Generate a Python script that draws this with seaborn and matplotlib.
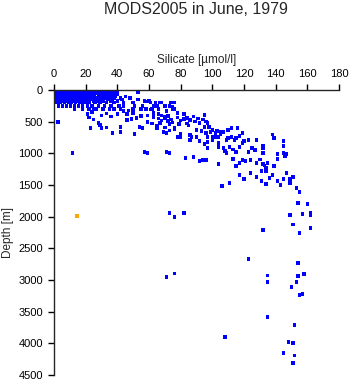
import matplotlib
matplotlib.use('Agg')
import matplotlib.pyplot as plt
import seaborn as sns
import pandas as pd

sns.set_style('ticks')
plt.rcParams['font.family'] = ['Liberation Sans', 'DejaVu Sans']

# upper layer: silicate values at standard depths (m)
levels = [0, 10, 20, 30, 50, 75, 100, 125, 150, 175, 200, 250, 300]
si_levels = [
    [0.3, 1.5, 3, 4.5, 6, 7.5, 9, 10.5, 12, 13.5, 15, 16.5, 18, 19.5, 21, 22.5, 24, 25.5, 27, 28.5, 30, 32, 34, 36, 38.5],
    [0.8, 2.5, 4, 5.5, 7, 8.5, 10, 11.5, 13, 14.5, 16, 17.5, 19, 20.5, 22, 23.5, 25, 26.5, 28, 29.5, 31, 33, 35.5, 39],
    [1, 3, 5, 7, 9, 11, 13, 15, 17, 19, 21, 23, 25, 27, 29, 31, 33.5, 37, 40],
    [0.5, 2.5, 4.5, 6.5, 8.5, 10.5, 12.5, 14.5, 16.5, 18.5, 20.5, 22.5, 24.5, 26.5, 28.5, 31, 34, 38, 53],
    [1, 3, 5, 7, 9, 11, 13, 15, 17, 19, 21, 23, 25, 27, 29.5, 32, 35, 38.5],
    [1.5, 3.5, 5.5, 7.5, 9.5, 11.5, 13.5, 15.5, 17.5, 19.5, 21.5, 23.5, 25.5, 28, 31, 34, 37, 40],
    [1, 3, 5, 7, 9, 11, 13, 15, 17, 19, 21, 23, 25.5, 28, 30, 33, 36, 39, 45],
    [2, 4, 6, 8, 10, 12, 14, 16, 18, 20, 22, 24, 26, 29, 32, 35, 38, 42, 48],
    [1.5, 3.5, 5.5, 7.5, 9.5, 11.5, 13.5, 15.5, 17.5, 19.5, 21.5, 24, 27, 30, 34, 37, 43, 53],
    [2, 4, 6, 8, 10, 12, 14, 16, 18, 20, 22, 25, 28, 31, 36, 40, 57, 60],
    [2, 4, 6.5, 9, 11, 13.5, 16, 18, 20, 22, 26, 29, 33, 38, 44, 50, 61, 64, 68, 74],
    [3, 5.5, 8, 10.5, 13, 15.5, 18, 21, 24, 28, 32, 36, 41, 44, 51, 56, 63, 65, 70, 73],
    [13, 18, 22, 25, 27, 31, 35, 38, 42, 50, 58, 62, 66, 75, 76],
]

# intermediate and deep samples
si_deep = [
    21, 24, 27, 22, 25, 28, 29, 30, 33, 36, 40, 23, 30, 33, 37, 42, 42, 46, 49, 52,
    54, 56, 51, 46, 50, 55, 59, 63, 59, 62, 65, 70, 73, 76, 78, 2.5,
    44, 47, 58, 61, 55, 67, 71, 75, 76,
    63, 66, 68, 70, 72, 78, 82, 95, 84, 86, 89, 92, 84, 90, 93, 96, 99, 100,
    87, 90, 69, 71, 65, 67, 76, 80, 80, 86, 97, 100, 102, 92, 95, 98, 97, 103, 105,
    70, 74, 78, 80, 75, 82, 88, 91, 85, 79, 73, 94, 96, 68, 66, 72,
    112, 116, 110, 107, 112, 114, 115, 117, 119, 110, 109, 104, 100, 102, 105,
    104, 104, 97, 86, 95, 97, 109, 111, 113, 115, 107, 108, 117, 119, 120, 123,
    125, 127, 123, 128, 132, 132, 139, 145, 145, 145, 147, 146, 138,
    11.5, 57, 59, 71, 73,
    94, 96, 92, 88, 83, 104, 115, 113, 119, 121, 124, 117, 128, 130, 132, 135,
    139, 141, 141, 132, 133, 134, 131, 134, 147, 106, 111, 117, 120, 128, 131,
    134, 136, 138, 141, 143, 145, 149, 149, 151, 153, 155, 154, 160, 124,
    73, 76, 82, 149, 157, 162, 162, 151, 162, 132, 155, 123, 154, 135, 154, 158,
    71, 76, 135, 153, 150, 155, 157, 135, 152, 108, 148, 151, 145, 152, 151,
]
z_deep = [
    380, 350, 300, 430, 470, 520, 550, 400, 370, 420, 380, 600, 600, 590, 680, 585, 660, 474, 460, 440,
    585, 600, 695, 380, 365, 410, 400, 425, 505, 530, 560, 590, 640, 620, 740, 505,
    330, 320, 180, 310, 300, 200, 330, 270, 200,
    365, 380, 400, 425, 410, 365, 380, 395, 440, 475, 500, 520, 525, 630, 650, 680, 660, 630,
    740, 740, 660, 680, 600, 520, 600, 695, 740, 710, 740, 740, 740, 805, 585, 585, 520, 645, 660,
    450, 470, 430, 480, 510, 460, 420, 450, 560, 540, 540, 470, 500, 480, 450, 490,
    600, 600, 630, 660, 740, 790, 760, 725, 680, 760, 790, 740, 790, 680, 695,
    840, 900, 820, 790, 855, 915, 995, 900, 940, 980, 915, 960, 900, 840, 805, 790,
    915, 945, 980, 790, 885, 915, 760, 805, 885, 995, 1010, 1040, 700,
    995, 980, 995, 980, 995,
    1105, 1105, 1120, 1060, 1075, 1170, 1200, 1090, 1105, 1120, 1105, 1150, 1150, 1100, 1170, 1150,
    1200, 1090, 1010, 995, 1190, 1220, 1280, 1280, 1310, 1515, 1470, 1340, 1405, 1375, 1435,
    1485, 1390, 1340, 1435, 1500, 1405, 1405, 1470, 1375, 1550, 1610, 1785, 1800, 1310,
    1945, 2005, 1945, 1975, 1960, 1945, 1975, 2120, 2180, 2210, 2260, 2670, 2730, 2925, 2940, 2905,
    2950, 2900, 3030, 3030, 3110, 3235, 3220, 3585, 3710, 3900, 3980, 3995, 4150, 4190, 4310,
]

# flagged sample
si_flag = [14.5]
z_flag = [1990]

rows = []
for d, vals in zip(levels, si_levels):
    for v in vals:
        rows.append((v, d, 'ok'))
for v, d in zip(si_deep, z_deep):
    rows.append((v, d, 'ok'))
for v, d in zip(si_flag, z_flag):
    rows.append((v, d, 'flag'))
df = pd.DataFrame(rows, columns=['silicate', 'depth', 'qc'])

W, H = 351, 384
fig = plt.figure(figsize=(W / 100, H / 100), dpi=100)
ax = fig.add_axes([54 / W, 1 - 375 / H, 285 / W, 285 / H])

sns.scatterplot(data=df, x='silicate', y='depth', hue='qc',
                palette={'ok': '#0000ff', 'flag': '#ffa500'},
                marker='s', s=6, linewidth=0, legend=False, ax=ax)

ax.set_xlim(0, 180)
ax.set_ylim(4500, 0)
ax.set_xticks(range(0, 181, 20))
ax.set_yticks(range(0, 4501, 500))
ax.xaxis.tick_top()
ax.xaxis.set_label_position('top')
for s in ['bottom', 'right']:
    ax.spines[s].set_visible(False)
for s in ['top', 'left']:
    ax.spines[s].set_linewidth(1)
ax.tick_params(direction='out', length=4, width=1, labelsize=8, pad=4, colors='black')
ax.set_xlabel('Silicate [µmol/l]', fontsize=8.5, labelpad=4)
ax.set_ylabel('Depth [m]', fontsize=8.5, labelpad=3)

fig.text((54 + 339 / 2 + 54 / 2) / W if False else 196 / W, 1 - 10 / H,
         'MODS2005 in June, 1979', ha='center', va='center', fontsize=11.5)

fig.savefig('out.png', dpi=100)
